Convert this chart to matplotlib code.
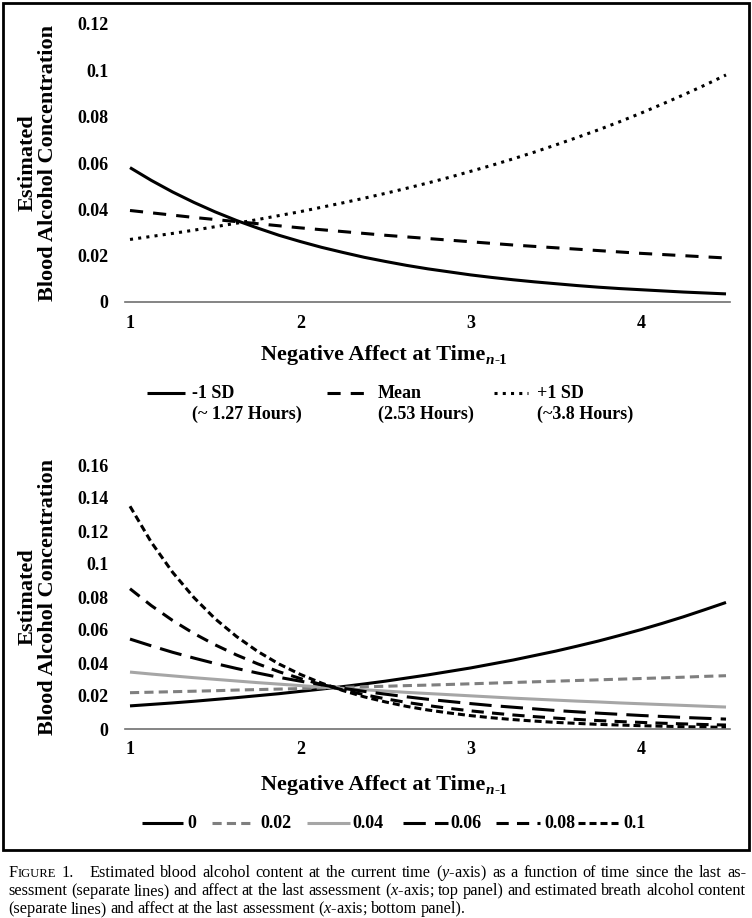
import matplotlib
matplotlib.use('Agg')
import matplotlib.pyplot as plt
from matplotlib.lines import Line2D
from matplotlib.patches import Rectangle

plt.rcParams['font.family'] = 'Liberation Serif'
plt.rcParams['mathtext.fontset'] = 'custom'
plt.rcParams['mathtext.rm'] = 'Liberation Serif'
plt.rcParams['mathtext.it'] = 'Liberation Serif:italic'
plt.rcParams['mathtext.bf'] = 'Liberation Serif:bold'

# --- datos ---
x_pts = [1.0, 1.125, 1.25, 1.375, 1.5, 1.625, 1.75, 1.875, 2.0, 2.125, 2.25, 2.375, 2.5,
         2.625, 2.75, 2.875, 3.0, 3.125, 3.25, 3.375, 3.5, 3.625, 3.75, 3.875, 4.0, 4.125,
         4.25, 4.375, 4.5]

# panel superior (tiempo desde la ultima evaluacion)
top_minus_sd = [0.058, 0.0525, 0.0475, 0.0430, 0.0389, 0.0352, 0.0319, 0.0288, 0.0261, 0.0236,
                0.0214, 0.0193, 0.0175, 0.0158, 0.0143, 0.0130, 0.0117, 0.0106, 0.0096, 0.0087,
                0.0079, 0.0071, 0.0064, 0.0058, 0.0053, 0.0048, 0.0043, 0.0039, 0.0035]
top_mean = [0.0395, 0.0385, 0.0375, 0.0365, 0.0356, 0.0347, 0.0338, 0.0329, 0.0320, 0.0312,
            0.0304, 0.0296, 0.0288, 0.0281, 0.0274, 0.0267, 0.0260, 0.0253, 0.0246, 0.0240,
            0.0234, 0.0228, 0.0222, 0.0216, 0.0210, 0.0205, 0.0200, 0.0195, 0.0190]
top_plus_sd = [0.027, 0.0283, 0.0296, 0.0310, 0.0325, 0.0340, 0.0356, 0.0373, 0.0390, 0.0409,
               0.0428, 0.0448, 0.0469, 0.0491, 0.0514, 0.0538, 0.0564, 0.0590, 0.0618, 0.0647,
               0.0678, 0.0710, 0.0743, 0.0778, 0.0815, 0.0854, 0.0894, 0.0936, 0.098]
top_labels = ['-1 SD', 'Mean', '+1 SD']
top_sublabels = ['(~ 1.27 Hours)', '(2.53 Hours)', '(~3.8 Hours)']

# panel inferior (alcohol en aliento)
bot_0 = [0.014, 0.0149, 0.0158, 0.0168, 0.0179, 0.0190, 0.0202, 0.0214, 0.0228, 0.0242,
         0.0257, 0.0273, 0.0290, 0.0309, 0.0328, 0.0349, 0.0370, 0.0394, 0.0418, 0.0445,
         0.0472, 0.0502, 0.0533, 0.0567, 0.0602, 0.0640, 0.0680, 0.0723, 0.0767]
bot_002 = [0.022, 0.0223, 0.0226, 0.0229, 0.0232, 0.0236, 0.0239, 0.0242, 0.0245, 0.0249,
           0.0252, 0.0256, 0.0259, 0.0263, 0.0266, 0.0270, 0.0274, 0.0278, 0.0282, 0.0286,
           0.0290, 0.0294, 0.0298, 0.0302, 0.0306, 0.0310, 0.0314, 0.0319, 0.0323]
bot_004 = [0.0345, 0.0333, 0.0322, 0.0311, 0.0301, 0.0291, 0.0281, 0.0272, 0.0263, 0.0254,
           0.0246, 0.0238, 0.0230, 0.0222, 0.0215, 0.0208, 0.0201, 0.0194, 0.0187, 0.0181,
           0.0175, 0.0169, 0.0164, 0.0158, 0.0153, 0.0148, 0.0143, 0.0138, 0.0133]
bot_006 = [0.0545, 0.0504, 0.0465, 0.0430, 0.0397, 0.0367, 0.0339, 0.0313, 0.0290, 0.0268,
           0.0247, 0.0228, 0.0211, 0.0195, 0.0180, 0.0167, 0.0154, 0.0142, 0.0132, 0.0122,
           0.0112, 0.0104, 0.0096, 0.0089, 0.0082, 0.0076, 0.0070, 0.0065, 0.0060]
bot_008 = [0.085, 0.0748, 0.0658, 0.0579, 0.0510, 0.0449, 0.0395, 0.0347, 0.0306, 0.0269,
           0.0237, 0.0208, 0.0183, 0.0161, 0.0142, 0.0125, 0.0110, 0.0097, 0.0085, 0.0075,
           0.0066, 0.0058, 0.0051, 0.0045, 0.0040, 0.0035, 0.0031, 0.0027, 0.0024]
bot_010 = [0.135, 0.1132, 0.0950, 0.0797, 0.0668, 0.0561, 0.0470, 0.0394, 0.0331, 0.0278,
           0.0233, 0.0195, 0.0164, 0.0137, 0.0115, 0.0097, 0.0081, 0.0068, 0.0057, 0.0048,
           0.0040, 0.0034, 0.0028, 0.0024, 0.0020, 0.0017, 0.0014, 0.0012, 0.0010]
bot_labels = ['0', '0.02', '0.04', '0.06', '0.08', '0.1']

x_ticks = [1, 2, 3, 4]
top_yticks = [0, 0.02, 0.04, 0.06, 0.08, 0.1, 0.12]
top_yticklabels = ['0', '0.02', '0.04', '0.06', '0.08', '0.1', '0.12']
bot_yticks = [0, 0.02, 0.04, 0.06, 0.08, 0.1, 0.12, 0.14, 0.16]
bot_yticklabels = ['0', '0.02', '0.04', '0.06', '0.08', '0.1', '0.12', '0.14', '0.16']

W, H = 752, 918


def fx(px):
    return px / W


def fy(py):
    return 1 - py / H


fig = plt.figure(figsize=(7.52, 9.18), dpi=100)
fig.patch.set_facecolor('white')

LW = 2.2
top_styles = [
    dict(color='black', lw=LW, linestyle='-'),
    dict(color='black', lw=LW, linestyle=(0, (4.3, 3.3))),
    dict(color='black', lw=LW, linestyle=(0, (1.0, 1.7))),
]
bot_styles = [
    dict(color='black', lw=LW, linestyle='-'),
    dict(color='#7f7f7f', lw=LW, linestyle=(0, (3.0, 1.7))),
    dict(color='#a6a6a6', lw=LW, linestyle='-'),
    dict(color='black', lw=LW, linestyle=(0, (7.3, 3.0))),
    dict(color='black', lw=LW, linestyle=(0, (4.0, 2.7))),
    dict(color='black', lw=LW, linestyle=(0, (2.3, 1.3))),
]


def make_axes(top_px, bottom_px, ymax, yticks, yticklabels):
    ax = fig.add_axes([fx(125), fy(bottom_px), fx(730) - fx(125), (bottom_px - top_px) / H])
    ax.set_xlim(1 - 5 / 170.3, 4.5 + 4 / 170.3)
    ax.set_ylim(0, ymax)
    for s in ['top', 'right', 'left']:
        ax.spines[s].set_visible(False)
    ax.spines['bottom'].set_color('#6f6f6f')
    ax.spines['bottom'].set_linewidth(1.2)
    ax.set_xticks(x_ticks)
    ax.set_xticklabels([str(v) for v in x_ticks])
    ax.set_yticks(yticks)
    ax.set_yticklabels(yticklabels)
    ax.tick_params(axis='both', length=0, labelsize=13)
    ax.tick_params(axis='y', pad=12)
    ax.tick_params(axis='x', pad=9)
    for lab in ax.get_xticklabels() + ax.get_yticklabels():
        lab.set_fontweight('bold')
    ax.patch.set_alpha(0)
    return ax


# --- panel superior ---
ax1 = make_axes(24, 302, 0.12, top_yticks, top_yticklabels)
for ys, st in zip([top_minus_sd, top_mean, top_plus_sd], top_styles):
    ax1.plot(x_pts, ys, solid_capstyle='butt', dash_capstyle='butt', **st)

# --- panel inferior ---
ax2 = make_axes(465, 729, 0.16, bot_yticks, bot_yticklabels)
for ys, st in zip([bot_0, bot_002, bot_004, bot_006, bot_008, bot_010], bot_styles):
    ax2.plot(x_pts, ys, solid_capstyle='butt', dash_capstyle='butt', **st)

renderer = fig.canvas.get_renderer()


def axis_title(cx_px, cy_px):
    t = fig.text(fx(cx_px), fy(cy_px), 'Negative Affect at Time', ha='center', va='center',
                 fontsize=16, fontweight='bold')
    bb = t.get_window_extent(renderer)
    x = bb.x1 / W
    base = bb.y0 / H + 1 / H
    t2 = fig.text(x + 1 / W, base, 'n', fontsize=11, fontweight='bold', style='italic',
                  va='baseline', ha='left')
    bb2 = t2.get_window_extent(renderer)
    fig.text(bb2.x1 / W, base, '-1', fontsize=11, fontweight='bold', va='baseline', ha='left')


def y_title(cx_px, cy_px):
    fig.text(fx(cx_px), fy(cy_px), 'Estimated\nBlood Alcohol Concentration', rotation=90,
             ha='center', va='center', multialignment='center', fontsize=16,
             fontweight='bold', linespacing=1.0)


axis_title(373, 355)
y_title(38, 163)
axis_title(373, 785)
y_title(38, 597)


def key_line(x0, x1, y, st):
    fig.add_artist(Line2D([fx(x0), fx(x1)], [fy(y), fy(y)], transform=fig.transFigure,
                          solid_capstyle='butt', dash_capstyle='butt', **st))


# leyenda superior
top_key_x = [(147, 185, 192), (327, 365, 378), (494, 528, 537)]
for (a, b, tx), lab, sub, st in zip(top_key_x, top_labels, top_sublabels, top_styles):
    key_line(a, b, 393, st)
    fig.text(fx(tx), fy(393), lab, fontsize=13, fontweight='bold', va='center', ha='left')
    fig.text(fx(tx), fy(414), sub, fontsize=13, fontweight='bold', va='center', ha='left')

# leyenda inferior
bot_key_x = [(142, 183, 187), (212, 250, 260), (307, 350, 352), (403, 448, 450),
             (496, 540, 544), (578, 619, 623)]
for (a, b, tx), lab, st in zip(bot_key_x, bot_labels, bot_styles):
    key_line(a, b, 823, st)
    fig.text(fx(tx), fy(823), lab, fontsize=13, fontweight='bold', va='center', ha='left')

# marco
fig.add_artist(Rectangle((fx(3), fy(850)), fx(749) - fx(3), (850 - 3) / H,
                         transform=fig.transFigure, fill=False, edgecolor='black', lw=2.0))

# pie de figura (justificado)
CAP = 11.7


def place_line(y_px, words, justify=True, x0=8, x1=746, base_gap=3.4):
    items = []
    total = 0.0
    for pieces, weight in words:
        objs = []
        for s, size in pieces:
            t = fig.text(0, fy(y_px), s, fontsize=size, va='baseline', ha='left')
            w = t.get_window_extent(renderer).width
            objs.append((t, w))
            total += w + 0.6
        total -= 0.6
        items.append((objs, weight))
    wsum = sum(wt for _, wt in items[:-1])
    gap = (x1 - x0 - total) / wsum if justify else base_gap
    x = x0
    for objs, weight in items:
        for t, w in objs:
            t.set_x(fx(x))
            x += w + 0.6
        x += gap * weight - 0.6


def simple_words(text, size=CAP):
    return [([(w, size)], 1) for w in text.split(' ')]


line1 = [([('F', CAP), ('IGURE', CAP * 0.78)], 1), ([('1.', CAP)], 3)]
line1 += simple_words('Estimated blood alcohol content at the current time ($y$-axis) as a '
                      'function of time since the last as-')
line2 = simple_words('sessment (separate lines) and affect at the last assessment ($x$-axis; '
                     'top panel) and estimated breath alcohol content')
line3 = simple_words('(separate lines) and affect at the last assessment ($x$-axis; '
                     'bottom panel).')
place_line(877, line1)
place_line(895, line2)
place_line(913, line3, justify=False)

fig.savefig('out.png', dpi=100, facecolor='white')
